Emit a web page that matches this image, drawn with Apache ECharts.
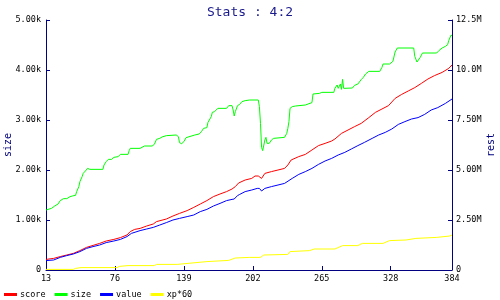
<!DOCTYPE html>
<html>
<head>
<meta charset="utf-8">
<script src="https://cdn.jsdelivr.net/npm/echarts@6/dist/echarts.min.js"></script>
<style>html,body{margin:0;padding:0;background:#fff}#c{width:500px;height:300px}</style>
</head>
<body>
<div id="c"></div>
<script>
// x positions (turn numbers) and values
var sizeX = [13,18,21,24,26,29,32,35,37,40,41,43,44,46,47,49,51,53,65,66,68,70,73,75,79,81,88,89,90,99,103,110,112,114,117,119,123,132,134,135,137,139,141,142,149,153,155,157,160,161,164,165,167,170,178,180,183,184,185,186,188,190,192,195,199,207,208,209,210,211,212,213,214,215,217,219,221,231,233,234,235,236,238,241,242,250,251,256,257,263,265,276,277,279,280,282,283,284,285,293,295,298,301,303,305,308,318,320,321,327,330,332,334,349,350,352,353,355,357,370,372,375,378,380,381,383,384];
var sizeY = [1200,1233,1280,1320,1387,1427,1427,1467,1480,1493,1567,1667,1767,1867,1933,1980,2033,2013,2013,2100,2167,2213,2213,2253,2267,2313,2313,2387,2433,2433,2480,2480,2513,2613,2633,2660,2687,2700,2667,2547,2527,2567,2647,2687,2700,2720,2767,2833,2847,2953,3067,3153,3167,3233,3233,3287,3287,3200,3080,3167,3287,3313,3367,3387,3400,3400,3267,2933,2450,2387,2367,2600,2653,2533,2533,2600,2633,2653,2733,2833,2967,3233,3267,3280,3300,3300,3333,3347,3520,3533,3553,3553,3633,3700,3633,3720,3613,3813,3633,3640,3693,3720,3807,3853,3920,3973,3973,4053,4120,4120,4173,4360,4440,4440,4273,4160,4160,4253,4340,4340,4387,4440,4473,4507,4587,4693,4693];

var scoreX = [13,20,26,32,38,44,50,56,62,68,75,81,87,90,94,99,105,111,114,123,129,135,142,148,154,160,166,172,178,183,184,186,189,195,201,204,207,210,213,219,225,231,234,237,244,250,256,262,268,274,277,283,289,295,301,308,314,320,326,332,338,344,350,356,362,368,375,381,384];
var scoreY = [0.53,0.58,0.67,0.75,0.83,0.97,1.13,1.23,1.33,1.45,1.53,1.62,1.75,1.92,2.03,2.08,2.20,2.30,2.42,2.55,2.70,2.83,2.97,3.13,3.30,3.47,3.67,3.80,3.92,4.05,4.00,4.17,4.35,4.50,4.58,4.70,4.70,4.58,4.83,4.92,5.00,5.08,5.25,5.50,5.67,5.78,6.00,6.22,6.33,6.45,6.55,6.83,7.00,7.17,7.33,7.62,7.88,8.05,8.22,8.58,8.78,8.95,9.12,9.33,9.55,9.72,9.88,10.08,10.25];

var valueX = [13,20,26,32,38,44,50,56,62,68,75,81,87,91,99,105,111,117,123,129,135,142,148,154,160,166,172,178,183,185,188,190,195,201,206,208,210,213,219,225,231,238,244,250,256,262,268,274,280,286,292,298,304,311,317,323,329,335,341,347,353,359,365,371,378,384];
var valueY = [0.47,0.50,0.63,0.72,0.80,0.92,1.08,1.17,1.25,1.37,1.45,1.53,1.67,1.83,1.97,2.05,2.13,2.25,2.37,2.50,2.58,2.67,2.75,2.92,3.03,3.20,3.33,3.47,3.53,3.55,3.72,3.78,3.92,4.00,4.08,4.08,3.95,4.08,4.17,4.25,4.33,4.58,4.78,4.92,5.08,5.28,5.45,5.58,5.75,5.88,6.05,6.22,6.38,6.58,6.75,6.88,7.05,7.28,7.42,7.55,7.62,7.78,8.00,8.12,8.33,8.55];

var xpX = [13,38,40,45,78,80,88,112,114,133,134,160,180,186,199,209,212,234,236,254,258,277,284,298,302,321,327,342,351,370,382,384];
var xpY = [0.03,0.03,0.08,0.12,0.12,0.18,0.22,0.22,0.28,0.28,0.35,0.42,0.48,0.60,0.63,0.63,0.75,0.78,0.92,0.97,1.05,1.05,1.22,1.22,1.33,1.33,1.47,1.50,1.58,1.63,1.70,1.75];

var xMin = 13, xMax = 384, xStep = 63;
var seriesNames = ['score','size','value','xp*60'];

function pairs(xs, ys){ return xs.map(function(x,i){ return [x - xMin, ys[i]]; }); }

var FONT = 'DejaVu Sans Mono';
var NAVY = '#000080';
var chart = echarts.init(document.getElementById('c'), null, {renderer:'canvas'});
chart.setOption({
  animation: false,
  backgroundColor: '#fff',
  title: { text: 'Stats : 4:2', left: 'center', top: 1,
    textStyle: { fontFamily: FONT, fontSize: 13, fontWeight: 'normal', color: '#1a1a8c' } },
  legend: { left: 4, top: 290, padding: 0, icon: 'rect', itemWidth: 13, itemHeight: 3, itemGap: 9,
    textStyle: { fontFamily: FONT, fontSize: 8.5, color: '#000', padding: [0,0,0,-2] },
    data: seriesNames },
  grid: { left: 46, right: 48, top: 20, bottom: 30, containLabel: false, outerBoundsMode: 'none' },
  xAxis: { type: 'value', min: 0, max: xMax - xMin, interval: xStep,
    axisLine: { lineStyle: { color: NAVY, width: 1 } },
    axisTick: { inside: true, length: 4, lineStyle: { color: NAVY } },
    splitLine: { show: false },
    axisLabel: { fontFamily: FONT, fontSize: 8.5, color: '#000', margin: 4,
      formatter: function(v){ return String(v + xMin); } } },
  yAxis: [
    { type: 'value', min: 0, max: 5000, interval: 1000, name: 'size',
      nameLocation: 'middle', nameGap: 33, nameRotate: 90, nameMoveOverlap: false,
      nameTextStyle: { fontFamily: FONT, fontSize: 10, color: NAVY },
      axisLine: { show: true, lineStyle: { color: NAVY } },
      axisTick: { show: true, inside: true, length: 4, lineStyle: { color: NAVY } },
      splitLine: { show: false },
      axisLabel: { fontFamily: FONT, fontSize: 8.5, color: '#000', margin: 5,
        formatter: function(v){ return v === 0 ? '0' : (v/1000).toFixed(2) + 'k'; } } },
    { type: 'value', min: 0, max: 12.5, interval: 2.5, name: 'rest',
      nameLocation: 'middle', nameGap: 34, nameRotate: 90, nameMoveOverlap: false,
      nameTextStyle: { fontFamily: FONT, fontSize: 10, color: NAVY },
      axisLine: { show: true, lineStyle: { color: NAVY } },
      axisTick: { show: true, inside: true, length: 4, lineStyle: { color: NAVY } },
      splitLine: { show: false },
      axisLabel: { fontFamily: FONT, fontSize: 8.5, color: '#000', margin: 4,
        formatter: function(v){ return v === 0 ? '0' : (v < 10 ? v.toFixed(2) : v.toFixed(1)) + 'M'; } } }
  ],
  series: [
    { name: 'score', type: 'line', yAxisIndex: 1, data: pairs(scoreX, scoreY), showSymbol: false,
      lineStyle: { width: 1, color: '#ff0000' }, itemStyle: { color: '#ff0000' } },
    { name: 'size', type: 'line', yAxisIndex: 0, data: pairs(sizeX, sizeY), showSymbol: false,
      lineStyle: { width: 1, color: '#00ff00' }, itemStyle: { color: '#00ff00' } },
    { name: 'value', type: 'line', yAxisIndex: 1, data: pairs(valueX, valueY), showSymbol: false,
      lineStyle: { width: 1, color: '#0000ff' }, itemStyle: { color: '#0000ff' } },
    { name: 'xp*60', type: 'line', yAxisIndex: 1, data: pairs(xpX, xpY), showSymbol: false,
      lineStyle: { width: 1, color: '#ffff00' }, itemStyle: { color: '#ffff00' } }
  ]
});
</script>
</body>
</html>
